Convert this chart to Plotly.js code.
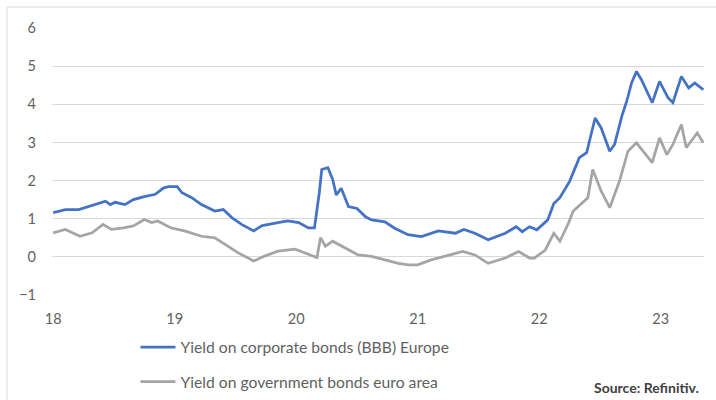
<!DOCTYPE html>
<html>
<head>
<meta charset="utf-8">
<script src="https://cdn.plot.ly/plotly-3.0.1.min.js"></script>
<style>
html,body{margin:0;padding:0;background:#fff;}
#chart{width:716px;height:400px;}
</style>
</head>
<body>
<div id="chart"></div>
<script>
// x values are decimal years in the "YY" format of the axis (18 = start of 2018)
const corpX = [18.00,18.10,18.21,18.34,18.43,18.47,18.51,18.59,18.66,18.75,18.84,18.91,18.95,19.02,19.06,19.14,19.22,19.33,19.40,19.47,19.55,19.65,19.72,19.85,19.93,20.02,20.10,20.15,20.19,20.21,20.26,20.30,20.33,20.37,20.43,20.50,20.57,20.62,20.73,20.81,20.92,21.03,21.17,21.31,21.38,21.47,21.58,21.72,21.81,21.86,21.92,21.98,22.07,22.12,22.17,22.25,22.33,22.39,22.46,22.51,22.58,22.62,22.68,22.72,22.76,22.80,22.84,22.93,22.99,23.06,23.10,23.17,23.23,23.28,23.32,23.35];
const corpY = [1.16,1.24,1.24,1.37,1.46,1.37,1.43,1.37,1.50,1.58,1.64,1.81,1.84,1.84,1.68,1.55,1.37,1.20,1.24,1.03,0.85,0.68,0.82,0.90,0.94,0.90,0.76,0.76,1.68,2.29,2.34,2.03,1.62,1.80,1.32,1.27,1.05,0.97,0.92,0.75,0.58,0.53,0.68,0.62,0.72,0.62,0.45,0.62,0.79,0.66,0.79,0.71,0.97,1.40,1.55,1.98,2.60,2.73,3.64,3.38,2.77,2.95,3.69,4.08,4.56,4.86,4.65,4.04,4.60,4.17,4.04,4.73,4.43,4.56,4.47,4.38];

const govX = [18.00,18.10,18.22,18.32,18.41,18.48,18.58,18.66,18.75,18.81,18.86,18.97,19.08,19.22,19.33,19.41,19.52,19.65,19.74,19.85,19.99,20.10,20.17,20.20,20.24,20.30,20.40,20.51,20.62,20.73,20.84,20.92,21.00,21.11,21.22,21.37,21.47,21.58,21.72,21.83,21.92,21.96,22.05,22.12,22.17,22.24,22.28,22.36,22.40,22.44,22.51,22.58,22.66,22.73,22.80,22.93,22.99,23.05,23.10,23.17,23.21,23.30,23.35];
const govY = [0.63,0.72,0.54,0.63,0.85,0.72,0.76,0.81,0.98,0.90,0.94,0.76,0.68,0.54,0.50,0.33,0.11,-0.11,0.02,0.15,0.20,0.07,-0.02,0.50,0.28,0.41,0.23,0.05,0.01,-0.08,-0.17,-0.21,-0.21,-0.08,0.01,0.14,0.05,-0.17,-0.03,0.14,-0.03,-0.03,0.18,0.62,0.41,0.88,1.20,1.42,1.55,2.29,1.72,1.29,1.98,2.77,2.99,2.47,3.12,2.68,2.95,3.47,2.86,3.25,2.99];

const xTicks = [18,19,20,21,22,23];
const xTickText = ['18','19','20','21','22','23'];
const yTicks = [-1,0,1,2,3,4,5,6];

const corpName = 'Yield on corporate bonds (BBB) Europe';
const govName = 'Yield on government bonds euro area';
const sourceText = 'Source: Refinitiv.';

const FONT = 'Lato, Carlito, Calibri, sans-serif';

const traces = [
  {x: corpX, y: corpY, type: 'scatter', mode: 'lines', name: corpName,
   line: {color: '#4472C4', width: 2.75}, legendgroup: 'a'},
  {x: govX, y: govY, type: 'scatter', mode: 'lines', name: govName,
   line: {color: '#A5A5A5', width: 2.75}, legendgroup: 'b'}
];

const layout = {
  width: 716, height: 400,
  margin: {l: 52, r: 12, t: 28, b: 105, autoexpand: false},
  paper_bgcolor: '#ffffff', plot_bgcolor: '#ffffff',
  font: {family: FONT, size: 14, color: '#595959'},
  showlegend: true,
  legend: {x: 0.128, y: -0.133, xanchor: 'left', yanchor: 'top', orientation: 'v',
           itemwidth: 35, tracegroupgap: 11,
           font: {family: FONT, size: 15.7, color: '#5f5f5f'},
           bgcolor: 'rgba(0,0,0,0)'},
  xaxis: {range: [17.99, 23.356], tickvals: xTicks, ticktext: xTickText,
          showgrid: false, zeroline: false, showline: false, ticks: '',
          ticklabelstandoff: 13, tickfont: {family: FONT, size: 14.5, color: '#5f5f5f'}},
  yaxis: {range: [-1, 6], tickvals: yTicks, showgrid: true, gridcolor: '#D9D9D9', gridwidth: 1,
          zeroline: false, showline: false, ticks: '', ticklabelstandoff: 15,
          tickfont: {family: FONT, size: 14.5, color: '#5f5f5f'}},
  shapes: [
    {type: 'rect', xref: 'paper', yref: 'paper', x0: -0.069, x1: 1.1, y0: -0.5, y1: 1.0787,
     line: {color: '#D9D9D9', width: 1}, fillcolor: 'rgba(0,0,0,0)', layer: 'below'}
  ],
  annotations: [
    {text: '<b>' + sourceText + '</b>', xref: 'paper', yref: 'paper', x: 0.995, y: -0.345,
     xanchor: 'right', yanchor: 'middle', showarrow: false,
     font: {family: FONT, size: 14, color: '#404040'}}
  ]
};

Plotly.newPlot('chart', traces, layout, {displayModeBar: false, staticPlot: true});
</script>
</body>
</html>
